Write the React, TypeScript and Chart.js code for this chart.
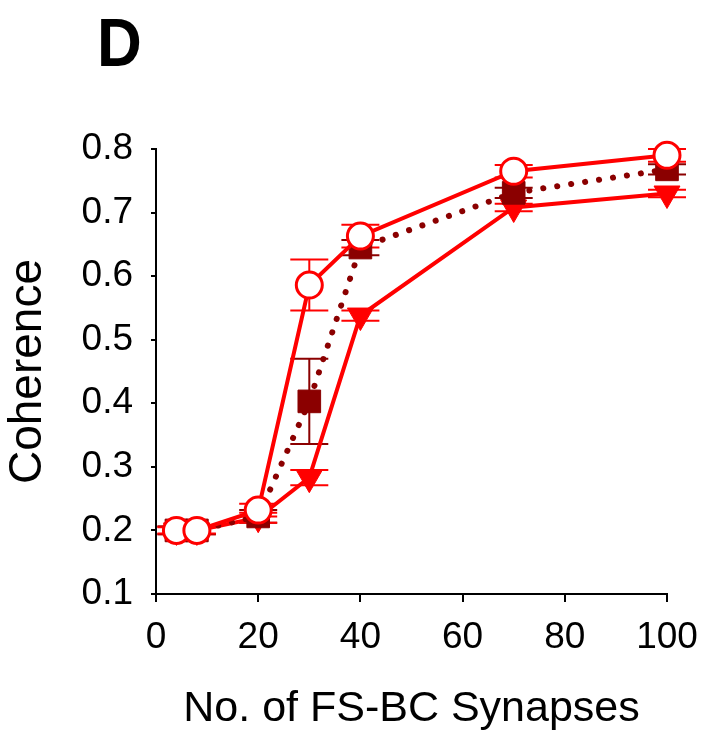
import { useEffect, useRef } from "react";
import { Chart, registerables } from "chart.js";

Chart.register(...registerables);

const synapses = [4, 8, 20, 30, 40, 70, 100];
const circleVals = [0.2, 0.2, 0.232, 0.586, 0.663, 0.765, 0.79];
const circleErr = [0.006, 0.006, 0.01, 0.04, 0.018, 0.01, 0.01];
const squareVals = [0.2, 0.2, 0.222, 0.403, 0.645, 0.731, 0.768];
const squareErr = [0.006, 0.006, 0.01, 0.067, 0.012, 0.008, 0.008];
const triVals = [0.2, 0.2, 0.22, 0.283, 0.538, 0.708, 0.73];
const triErr = [0.005, 0.005, 0.008, 0.012, 0.008, 0.006, 0.006];
const panelLabel = "D";
const xTitle = "No. of FS-BC Synapses";
const yTitle = "Coherence";

const FONT = '"Liberation Sans", Arial, sans-serif';
const RED = "#ff0000";
const DARK = "#8b0000";

const errorSets = [
  { vals: circleVals, errs: circleErr, color: RED },
  { vals: squareVals, errs: squareErr, color: DARK },
  { vals: triVals, errs: triErr, color: RED },
];

const errorBarPlugin = {
  id: "errorBars",
  beforeDatasetsDraw(chart: any) {
    const { ctx, scales } = chart;
    const xs = scales.x;
    const ys = scales.y;
    ctx.save();
    ctx.lineWidth = 2;
    for (const set of errorSets) {
      ctx.strokeStyle = set.color;
      set.vals.forEach((v, i) => {
        const x = xs.getPixelForValue(synapses[i]);
        const yt = ys.getPixelForValue(v + set.errs[i]);
        const yb = ys.getPixelForValue(v - set.errs[i]);
        const hw = 19;
        ctx.beginPath();
        ctx.moveTo(x, yt);
        ctx.lineTo(x, yb);
        ctx.moveTo(x - hw, yt);
        ctx.lineTo(x + hw, yt);
        ctx.moveTo(x - hw, yb);
        ctx.lineTo(x + hw, yb);
        ctx.stroke();
      });
    }
    ctx.restore();
  },
};

const panelPlugin = {
  id: "panelLabel",
  afterDraw(chart: any) {
    const { ctx } = chart;
    ctx.save();
    ctx.fillStyle = "#000";
    ctx.font = `bold 62px ${FONT}`;
    ctx.textAlign = "left";
    ctx.textBaseline = "alphabetic";
    ctx.translate(97, 66);
    ctx.scale(1, 1.1);
    ctx.fillText(panelLabel, 0, 0);
    ctx.restore();
  },
};

export default function App() {
  const ref = useRef<HTMLCanvasElement | null>(null);
  useEffect(() => {
    if (!ref.current) return;
    const toPts = (vals: number[]) => vals.map((y, i) => ({ x: synapses[i], y }));
    const chart = new Chart(ref.current, {
      type: "line",
      data: {
        datasets: [
          {
            data: toPts(circleVals),
            borderColor: RED,
            borderWidth: 4,
            pointStyle: "circle",
            pointRadius: 13,
            pointBorderWidth: 3,
            pointBackgroundColor: "#ffffff",
            pointBorderColor: RED,
            clip: false,
            order: 1,
          },
          {
            data: toPts(squareVals),
            borderColor: DARK,
            borderWidth: 6,
            borderDash: [0.1, 14],
            borderCapStyle: "round",
            pointStyle: "rect",
            pointRadius: 16,
            pointBorderWidth: 1,
            pointBackgroundColor: DARK,
            pointBorderColor: DARK,
            clip: false,
            order: 2,
          },
          {
            data: toPts(triVals),
            borderColor: RED,
            borderWidth: 4,
            pointStyle: "triangle",
            pointRotation: 180,
            pointRadius: 15,
            pointBorderWidth: 1,
            pointBackgroundColor: RED,
            pointBorderColor: RED,
            clip: false,
            order: 3,
          },
        ] as any,
      },
      options: {
        responsive: false,
        animation: false,
        layout: { padding: { top: 149, left: 0, right: 36, bottom: 0 } },
        plugins: { legend: { display: false }, tooltip: { enabled: false } },
        scales: {
          x: {
            type: "linear",
            min: 0,
            max: 100,
            afterFit: (s: any) => {
              s.height = 141;
              s.paddingRight = 0;
              s.paddingLeft = 0;
            },
            ticks: {
              stepSize: 20,
              color: "#000",
              font: { family: FONT, size: 37 },
              padding: 14,
              maxRotation: 0,
            },
            grid: {
              drawOnChartArea: false,
              drawTicks: true,
              tickLength: 8,
              color: "#000",
              lineWidth: 2,
            },
            border: { color: "#000", width: 2 },
            title: {
              display: true,
              text: xTitle,
              color: "#000",
              font: { family: FONT, size: 43 },
              padding: { top: 0, bottom: 0 },
            },
          },
          y: {
            type: "linear",
            min: 0.1,
            max: 0.8,
            afterFit: (s: any) => {
              s.width = 156;
            },
            ticks: {
              stepSize: 0.1,
              color: "#000",
              font: { family: FONT, size: 37 },
              padding: 18,
              callback: (v: any) => Number(v).toFixed(1),
            },
            grid: {
              drawOnChartArea: false,
              drawTicks: true,
              tickLength: 5,
              color: "#000",
              lineWidth: 2,
            },
            border: { color: "#000", width: 2 },
            title: {
              display: true,
              text: yTitle,
              color: "#000",
              font: { family: FONT, size: 46 },
              padding: { top: 1, bottom: 0 },
            },
          },
        },
      },
      plugins: [errorBarPlugin, panelPlugin],
    });
    return () => chart.destroy();
  }, []);
  return (
    <div style={{ position: "absolute", left: 0, top: 0, width: 703, height: 735 }}>
      <canvas ref={ref} width={703} height={735} style={{ width: 703, height: 735 }} />
    </div>
  );
}
